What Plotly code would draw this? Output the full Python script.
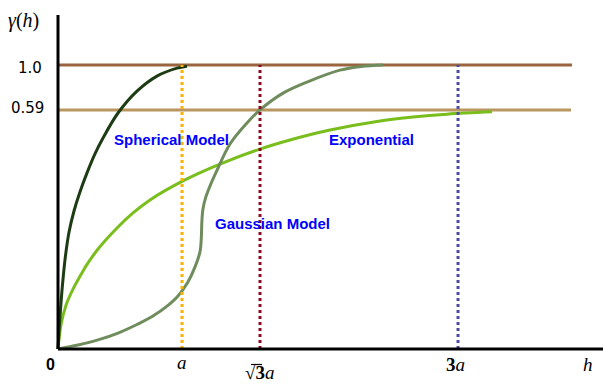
import plotly.graph_objects as go

# ---------------- data ----------------
# lag h in units of a, semivariance gamma in units of the sill
sph_h = [0, 0.016, 0.036, 0.060, 0.089, 0.129, 0.177, 0.234, 0.298, 0.363, 0.484, 0.637, 0.798, 0.960, 1.040]
sph_g = [0, 0.113, 0.225, 0.327, 0.412, 0.486, 0.553, 0.620, 0.687, 0.743, 0.831, 0.908, 0.961, 0.989, 0.996]

exp_h = [0, 0.024, 0.065, 0.121, 0.202, 0.242, 0.323, 0.476, 0.605, 0.742, 1.008, 1.306, 1.629, 1.871, 2.194, 2.597, 2.863, 3.137, 3.500]
exp_g = [0, 0.085, 0.155, 0.211, 0.275, 0.303, 0.352, 0.426, 0.479, 0.525, 0.592, 0.651, 0.704, 0.736, 0.771, 0.803, 0.817, 0.827, 0.835]

gau_h = [0, 0.161, 0.323, 0.484, 0.645, 0.766, 0.879, 0.968, 1.048, 1.105, 1.145, 1.156, 1.160, 1.169, 1.190, 1.226, 1.280, 1.387, 1.522, 1.629, 1.815, 2.008, 2.274, 2.444, 2.621]
gau_g = [0, 0.014, 0.032, 0.056, 0.088, 0.116, 0.151, 0.187, 0.236, 0.289, 0.342, 0.394, 0.447, 0.493, 0.532, 0.574, 0.627, 0.722, 0.795, 0.842, 0.901, 0.940, 0.982, 0.995, 1.000]

sill_levels = [1.0, 0.8415]          # drawn heights of the two horizontal lines
sill_labels = ["1.0", "0.59"]
sill_end = [4.145, 4.137]

range_h = [1.0, 1.629, 3.226]        # a, sqrt(3)a, 3a
range_top = 1.0

# ---------------- layout helpers ----------------
W, H = 603, 384
X0, Y0, SX, SY = 58, 349, 124, 284
xr = [-X0 / SX, (W - X0) / SX]
yr = [-(H - Y0) / SY, Y0 / SY]

fig = go.Figure()

# horizontal sill lines
for lvl, end, col in zip(sill_levels, sill_end, ["#9A6440", "#BA9660"]):
    fig.add_trace(go.Scatter(x=[0, end], y=[lvl, lvl], mode="lines",
                             line=dict(color=col, width=3), hoverinfo="skip"))

# model curves
fig.add_trace(go.Scatter(x=exp_h, y=exp_g, mode="lines",
                         line=dict(color="#79BE1C", width=3, shape="spline", smoothing=1.0)))
fig.add_trace(go.Scatter(x=gau_h, y=gau_g, mode="lines",
                         line=dict(color="#6F8C5C", width=3, shape="spline", smoothing=1.0)))
fig.add_trace(go.Scatter(x=sph_h, y=sph_g, mode="lines",
                         line=dict(color="#1E3C14", width=3, shape="spline", smoothing=1.0)))

# vertical dotted range lines
for hx, col in zip(range_h, ["#FFB000", "#8C0C22", "#4C4CA0"]):
    fig.add_trace(go.Scatter(x=[hx, hx], y=[0, range_top], mode="lines",
                             line=dict(color=col, width=3, dash="dot"), hoverinfo="skip"))

# axes
fig.add_shape(type="line", x0=0, x1=0, y0=0, y1=(Y0 - 15) / SY, xref="x", yref="y",
              line=dict(color="black", width=3))
fig.add_shape(type="line", x0=0, x1=xr[1], y0=0, y1=0, xref="x", yref="y",
              line=dict(color="black", width=3))
# bar of the square-root sign
fig.add_shape(type="line", x0=251 / W, x1=262 / W, y0=1 - 364.5 / H, y1=1 - 364.5 / H,
              xref="paper", yref="paper", line=dict(color="black", width=1.2))


def ann(text, px, py, size, family, color="black"):
    return dict(text=text, x=px / W, y=1 - py / H, xref="paper", yref="paper",
                showarrow=False, xanchor="center", yanchor="middle",
                font=dict(size=size, family=family, color=color))


serif = "Liberation Serif"
sans = "DejaVu Sans"
bold = "Liberation Sans"
annotations = [
    ann("<i>γ</i>(<i>h</i>)", 23, 20, 20, serif),
    ann(sill_labels[0], 30, 68, 15, sans),
    ann(sill_labels[1], 28, 108, 15, sans),
    ann("<b>0</b>", 50, 364, 16, bold),
    ann("<i>a</i>", 181.5, 362, 19, serif),
    ann("√<b>3</b><i>a</i>", 259, 372, 19, serif),
    ann("<b>3</b><i>a</i>", 455, 364, 19, serif),
    ann("<i>h</i>", 588, 364, 19, serif),
    ann("<b>Spherical Model</b>", 171.5, 140, 15, bold, "#0000FF"),
    ann("<b>Exponential</b>", 371.5, 140, 15, bold, "#0000FF"),
    ann("<b>Gaussian Model</b>", 272, 223, 15, bold, "#0000FF"),
]

fig.update_layout(
    width=W, height=H, margin=dict(l=0, r=0, t=0, b=0),
    paper_bgcolor="white", plot_bgcolor="white", showlegend=False,
    xaxis=dict(range=xr, visible=False, fixedrange=True),
    yaxis=dict(range=yr, visible=False, fixedrange=True),
    annotations=annotations,
)

fig.write_html("out.html", config={"displayModeBar": False},
               post_script="document.body.style.margin='0px';document.body.style.padding='0px';")
